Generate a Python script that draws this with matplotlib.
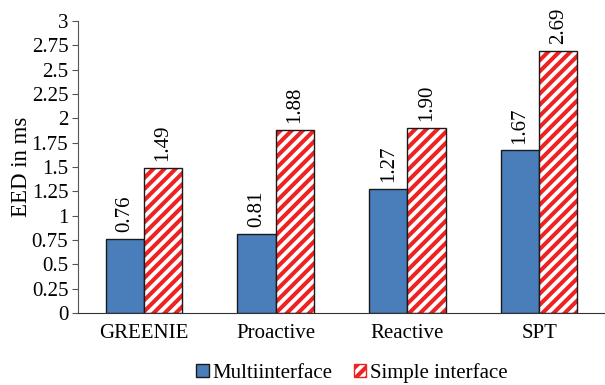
import matplotlib
matplotlib.use("Agg")
import matplotlib.pyplot as plt
from matplotlib.patches import Patch
import numpy as np

categories = ["GREENIE", "Proactive", "Reactive", "SPT"]
multiinterface = [0.76, 0.81, 1.27, 1.67]
simple_interface = [1.49, 1.88, 1.90, 2.69]
yticks = [0, 0.25, 0.5, 0.75, 1, 1.25, 1.5, 1.75, 2, 2.25, 2.5, 2.75, 3]
ytick_labels = ["0", "0.25", "0.5", "0.75", "1", "1.25", "1.5", "1.75", "2",
                "2.25", "2.5", "2.75", "3"]

plt.rcParams["font.family"] = ["Liberation Serif", "DejaVu Serif"]
plt.rcParams["hatch.linewidth"] = 2.9

fig = plt.figure(figsize=(6.05, 3.85), dpi=100)
ax = fig.add_axes([78 / 605, 1 - 313 / 385, 527 / 605, 292 / 385])

x = np.arange(len(categories))
w = 0.29
blue = "#4a7ebb"
red = "#ee2222"
edge = "#1a1a1a"
fs = 15

ax.bar(x - w / 2, multiinterface, w, color=blue, edgecolor=edge, linewidth=1.0,
       zorder=2)
# hatched fill in red, then a black outline on top
ax.bar(x + w / 2, simple_interface, w, color="white", edgecolor=red,
       hatch="///", linewidth=0, zorder=2)
ax.bar(x + w / 2, simple_interface, w, fill=False, edgecolor=edge, linewidth=1.0,
       zorder=3)

for xi, v in zip(x - w / 2, multiinterface):
    ax.annotate(f"{v:.2f}", (xi, v), xytext=(0, 5), textcoords="offset points",
                rotation=90, ha="center", va="bottom", fontsize=fs)
for xi, v in zip(x + w / 2, simple_interface):
    ax.annotate(f"{v:.2f}", (xi, v), xytext=(0, 5), textcoords="offset points",
                rotation=90, ha="center", va="bottom", fontsize=fs)

ax.set_xlim(-0.5, len(categories) - 0.5)
ax.set_ylim(0, 3)
ax.set_yticks(yticks)
ax.set_yticklabels(ytick_labels, fontsize=fs)
ax.set_xticks(x)
ax.set_xticklabels(categories, fontsize=fs)
ax.tick_params(axis="x", length=0, pad=8)
ax.tick_params(axis="y", length=4, pad=3, color="#555555")
for s in ["top", "right"]:
    ax.spines[s].set_visible(False)
ax.spines["left"].set_color("#555555")
ax.spines["bottom"].set_color("#333333")
ax.set_ylabel("EED in ms", fontsize=16.5, labelpad=0)

handles = [
    Patch(facecolor=blue, edgecolor=edge, linewidth=1.0),
    Patch(facecolor="white", edgecolor=red, hatch="///", linewidth=1.0),
]
fig.legend(handles, ["Multiinterface", "Simple interface"],
           loc="center", bbox_to_anchor=(352 / 605, 1 - 373 / 385),
           ncol=2, frameon=False, handlelength=0.6,
           handleheight=0.6, handletextpad=0.2, columnspacing=1.0,
           prop={"family": "Liberation Serif", "size": fs})

fig.savefig("out.png", dpi=100)
